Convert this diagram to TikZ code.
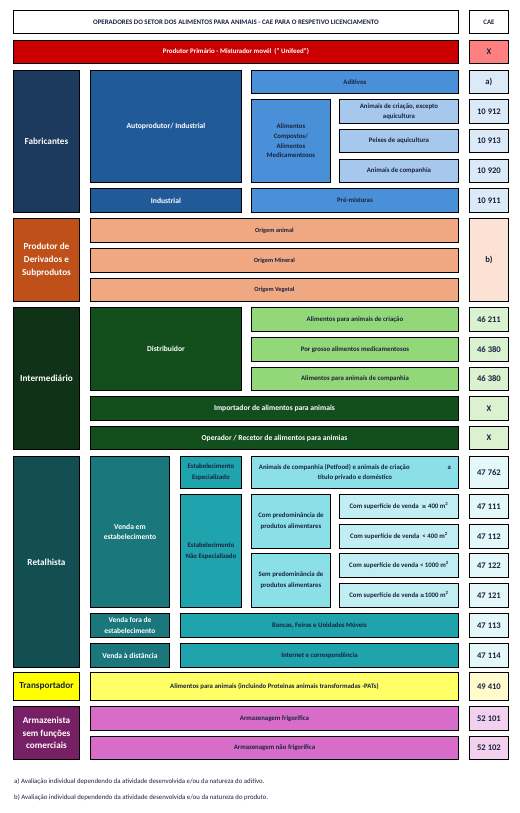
\documentclass[tikz,border=0pt]{standalone}
\usepackage{fontspec}
\setmainfont{Carlito}
\newfontfamily\symfont{DejaVu Sans}
\usepackage{tikz}
\usetikzlibrary{positioning}
\definecolor{TextDark}{RGB}{26, 35, 64}
\definecolor{PrimRed}{RGB}{204, 0, 0}
\definecolor{PrimCae}{RGB}{255, 128, 128}
\definecolor{FabDark}{RGB}{27, 58, 94}
\definecolor{FabMid}{RGB}{33, 90, 152}
\definecolor{FabBlue}{RGB}{74, 144, 216}
\definecolor{FabLight}{RGB}{166, 200, 236}
\definecolor{FabCae}{RGB}{220, 233, 247}
\definecolor{DerDark}{RGB}{192, 80, 26}
\definecolor{DerLight}{RGB}{240, 168, 130}
\definecolor{DerCae}{RGB}{251, 226, 213}
\definecolor{IntDark}{RGB}{16, 51, 23}
\definecolor{IntMid}{RGB}{19, 79, 28}
\definecolor{IntLight}{RGB}{146, 216, 120}
\definecolor{IntCae}{RGB}{218, 242, 208}
\definecolor{RetDark}{RGB}{19, 79, 82}
\definecolor{RetMid}{RGB}{26, 119, 123}
\definecolor{RetTeal}{RGB}{31, 163, 172}
\definecolor{RetLight}{RGB}{139, 224, 232}
\definecolor{RetPale}{RGB}{192, 238, 242}
\definecolor{RetCae}{RGB}{228, 247, 249}
\definecolor{TrYellow}{RGB}{255, 255, 0}
\definecolor{TrLight}{RGB}{255, 255, 102}
\definecolor{TrCae}{RGB}{255, 251, 204}
\definecolor{ArmDark}{RGB}{120, 32, 102}
\definecolor{ArmLight}{RGB}{216, 108, 201}
\definecolor{ArmCae}{RGB}{243, 208, 238}
\newcommand{\geqsym}{{\symfont\fontsize{5.6}{7}\selectfont ≥}}

\begin{document}
\begin{tikzpicture}[x=1pt, y=-1pt,
  cell/.style={draw=black, line width=0.9pt, anchor=north west, inner sep=0pt,
    align=center, text=TextDark, font=\bfseries\fontsize{6.8}{9.7}\selectfont},
  whitetxt/.style={text=white, font=\bfseries\fontsize{7.6}{10.5}\selectfont},
  maintxt/.style={font=\bfseries\fontsize{9.2}{12.6}\selectfont},
  caetxt/.style={font=\bfseries\fontsize{8.6}{10}\selectfont},
  smalltxt/.style={font=\bfseries\fontsize{6.3}{8}\selectfont},
  colA/.style={minimum width=66pt},
  colB/.style={minimum width=151pt},
  colCa/.style={minimum width=79pt},
  colCb/.style={minimum width=61pt},
  colD/.style={minimum width=207pt},
  colDa/.style={minimum width=79pt},
  colDb/.style={minimum width=119pt},
  spanBD/.style={minimum width=368pt},
  spanCD/.style={minimum width=278pt},
  colCae/.style={minimum width=39pt},
  ht/.style={minimum height=#1pt},
  note/.style={anchor=west, inner sep=0pt, text=TextDark, font=\fontsize{6.8}{8}\selectfont}]
  \useasboundingbox (0,0) rectangle (519,813);

  % Header
  \node[cell, fill=white, minimum width=445pt, ht=23, font=\bfseries\fontsize{6.9}{8}\selectfont] (title) at (13,10)
    {OPERADORES DO SETOR DOS ALIMENTOS PARA ANIMAIS - CAE PARA O RESPETIVO LICENCIAMENTO};
  \node[cell, colCae, ht=23, fill=white] (caehead) at (469,10) {CAE};

  % Produtor primario
  \node[cell, whitetxt, fill=PrimRed, minimum width=445pt, ht=23, font=\bfseries\fontsize{6.9}{8}\selectfont] (primario) at (13,40)
    {Produtor Primário - Misturador movél~ (" Unifeed")};
  \node[cell, caetxt, colCae, ht=23, fill=PrimCae] (caeprim) at (469,40) {X};

  % Fabricantes
  \node[cell, whitetxt, maintxt, colA, ht=142, fill=FabDark] (fabric) at (13,70) {Fabricantes};
  \node[cell, whitetxt, colB, ht=112, fill=FabMid] (autoprod) at (90,70) {Autoprodutor/ Industrial};
  \node[cell, colD, ht=23, fill=FabBlue] (aditivos) at (251,70) {Aditivos};
  \node[cell, colDa, ht=83, fill=FabBlue] (compostos) at (251,99)
    {Alimentos\\Compostos/\\Alimentos\\Medicamentosos};
  \node[cell, colDb, ht=24, fill=FabLight] (criacao) at (339,99)
    {Animais de criação, excepto\\aquicultura};
  \node[cell, colDb, ht=23, fill=FabLight] (peixes) at (339,129) {Peixes de aquicultura};
  \node[cell, colDb, ht=23, fill=FabLight] (companhia) at (339,159) {Animais de companhia};
  \node[cell, whitetxt, colB, ht=24, fill=FabMid] (industrial) at (90,188) {Industrial};
  \node[cell, colD, ht=24, fill=FabBlue] (premist) at (251,188) {Pré-misturas};
  \node[cell, caetxt, colCae, ht=23, fill=FabCae] (caeadit) at (469,70) {a)};
  \node[cell, caetxt, colCae, ht=24, fill=FabCae] (caecri) at (469,99) {10 912};
  \node[cell, caetxt, colCae, ht=23, fill=FabCae] (caepei) at (469,129) {10 913};
  \node[cell, caetxt, colCae, ht=23, fill=FabCae] (caecomp) at (469,159) {10 920};
  \node[cell, caetxt, colCae, ht=24, fill=FabCae] (caepre) at (469,188) {10 911};

  % Produtor de derivados
  \node[cell, whitetxt, maintxt, colA, ht=83, fill=DerDark] (derivados) at (13,218)
    {Produtor de\\Derivados e\\Subprodutos};
  \node[cell, spanBD, ht=24, fill=DerLight, smalltxt] (oanimal) at (90,218) {Origem animal};
  \node[cell, spanBD, ht=24, fill=DerLight, smalltxt] (omineral) at (90,248) {Origem Mineral};
  \node[cell, spanBD, ht=23, fill=DerLight, smalltxt] (ovegetal) at (90,278) {Origem Vegetal};
  \node[cell, caetxt, colCae, ht=83, fill=DerCae] (caeder) at (469,218) {b)};

  % Intermediario
  \node[cell, whitetxt, maintxt, colA, ht=142, fill=IntDark] (interm) at (13,307) {Intermediário};
  \node[cell, whitetxt, colB, ht=83, fill=IntMid] (distrib) at (90,307) {Distribuidor};
  \node[cell, colD, ht=24, fill=IntLight] (dcriacao) at (251,307) {Alimentos para animais de criação};
  \node[cell, colD, ht=24, fill=IntLight] (dgrosso) at (251,337) {Por grosso alimentos medicamentosos};
  \node[cell, colD, ht=23, fill=IntLight] (dcomp) at (251,367) {Alimentos para animais de companhia};
  \node[cell, whitetxt, spanBD, ht=24, fill=IntMid] (importador) at (90,396) {Importador de alimentos para animais};
  \node[cell, whitetxt, spanBD, ht=23, fill=IntMid] (operador) at (90,426) {Operador / Recetor de alimentos para animias};
  \node[cell, caetxt, colCae, ht=24, fill=IntCae] (caedcri) at (469,307) {46 211};
  \node[cell, caetxt, colCae, ht=24, fill=IntCae] (caedgro) at (469,337) {46 380};
  \node[cell, caetxt, colCae, ht=23, fill=IntCae] (caedcom) at (469,367) {46 380};
  \node[cell, caetxt, colCae, ht=24, fill=IntCae] (caeimp) at (469,396) {X};
  \node[cell, caetxt, colCae, ht=23, fill=IntCae] (caeope) at (469,426) {X};

  % Retalhista
  \node[cell, whitetxt, maintxt, colA, ht=211, fill=RetDark] (retal) at (13,456) {Retalhista};
  \node[cell, whitetxt, colCa, ht=151, fill=RetMid] (vendaem) at (90,456) {Venda em\\estabelecimento};
  \node[cell, colCb, ht=32, fill=RetTeal, font=\bfseries\fontsize{6.8}{10.7}\selectfont] (especial) at (180,456)
    {Estabelecimento\\Especializado};
  \node[cell, colD, ht=32, fill=RetLight] (petfood) at (251,456)
    {\makebox[192pt]{Animais de companhia (Petfood) e animais de criação\hfill a}\\título privado e doméstico};
  \node[cell, colCb, ht=113, fill=RetTeal, font=\bfseries\fontsize{6.8}{10.7}\selectfont] (naoespecial) at (180,494)
    {Estabelecimento\\Não Especializado};
  \node[cell, colDa, ht=54, fill=RetLight, font=\bfseries\fontsize{6.8}{10.7}\selectfont] (compred) at (251,494)
    {Com predominância de\\produtos alimentares};
  \node[cell, colDb, ht=24, fill=RetPale] (sup400a) at (339,494) {Com superfície de venda~ \geqsym\ 400 m\textsuperscript{2}};
  \node[cell, colDb, ht=24, fill=RetPale] (sup400b) at (339,524) {Com superfície de venda~ < 400 m\textsuperscript{2}};
  \node[cell, colDa, ht=54, fill=RetLight, font=\bfseries\fontsize{6.8}{10.7}\selectfont] (sempred) at (251,553)
    {Sem predominância de\\produtos alimentares};
  \node[cell, colDb, ht=24, fill=RetPale] (sup1000a) at (339,553) {Com superfície de venda < 1000 m\textsuperscript{2}};
  \node[cell, colDb, ht=24, fill=RetPale] (sup1000b) at (339,583) {Com superfície de venda \geqsym1000 m\textsuperscript{2}};
  \node[cell, whitetxt, colCa, ht=24, fill=RetMid, font=\bfseries\fontsize{7.4}{10.8}\selectfont] (vendafora) at (90,613)
    {Venda fora de\\estabelecimento};
  \node[cell, spanCD, ht=24, fill=RetTeal] (bancas) at (180,613) {Bancas, Feiras e Unidades Móveis};
  \node[cell, whitetxt, colCa, ht=24, fill=RetMid] (distancia) at (90,643) {Venda à distância};
  \node[cell, spanCD, ht=24, fill=RetTeal] (internet) at (180,643) {Internet e correspondência};
  \node[cell, caetxt, colCae, ht=32, fill=RetCae] (caepet) at (469,456) {47 762};
  \node[cell, caetxt, colCae, ht=24, fill=RetCae] (cae111) at (469,494) {47 111};
  \node[cell, caetxt, colCae, ht=24, fill=RetCae] (cae112) at (469,524) {47 112};
  \node[cell, caetxt, colCae, ht=24, fill=RetCae] (cae122) at (469,553) {47 122};
  \node[cell, caetxt, colCae, ht=24, fill=RetCae] (cae121) at (469,583) {47 121};
  \node[cell, caetxt, colCae, ht=24, fill=RetCae] (cae113) at (469,613) {47 113};
  \node[cell, caetxt, colCae, ht=24, fill=RetCae] (cae114) at (469,643) {47 114};

  % Transportador
  \node[cell, maintxt, colA, ht=28, fill=TrYellow] (transp) at (13,672) {Transportador};
  \node[cell, spanBD, ht=28, fill=TrLight] (alimpat) at (90,672)
    {Alimentos para animais (incluindo Proteinas animais transformadas -PATs)};
  \node[cell, caetxt, colCae, ht=28, fill=TrCae] (caetr) at (469,672) {49 410};

  % Armazenista
  \node[cell, whitetxt, maintxt, colA, ht=53, fill=ArmDark] (armaz) at (13,706) {Armazenista\\sem funções\\comerciais};
  \node[cell, spanBD, ht=24, fill=ArmLight] (frigo) at (90,706) {Armazenagem frigorífica};
  \node[cell, spanBD, ht=23, fill=ArmLight] (naofrigo) at (90,736) {Armazenagem não frigorífica};
  \node[cell, caetxt, colCae, ht=24, fill=ArmCae] (cae101) at (469,706) {52 101};
  \node[cell, caetxt, colCae, ht=23, fill=ArmCae] (cae102) at (469,736) {52 102};

  % Notas
  \node[note] (notaa) at (14,782) {a) Avaliação individual dependendo da atividade desenvolvida e/ou da natureza do aditivo.};
  \node[note] (notab) at (14,798) {b) Avaliação individual dependendo da atividade desenvolvida e/ou da natureza do produto.};
\end{tikzpicture}
\end{document}
